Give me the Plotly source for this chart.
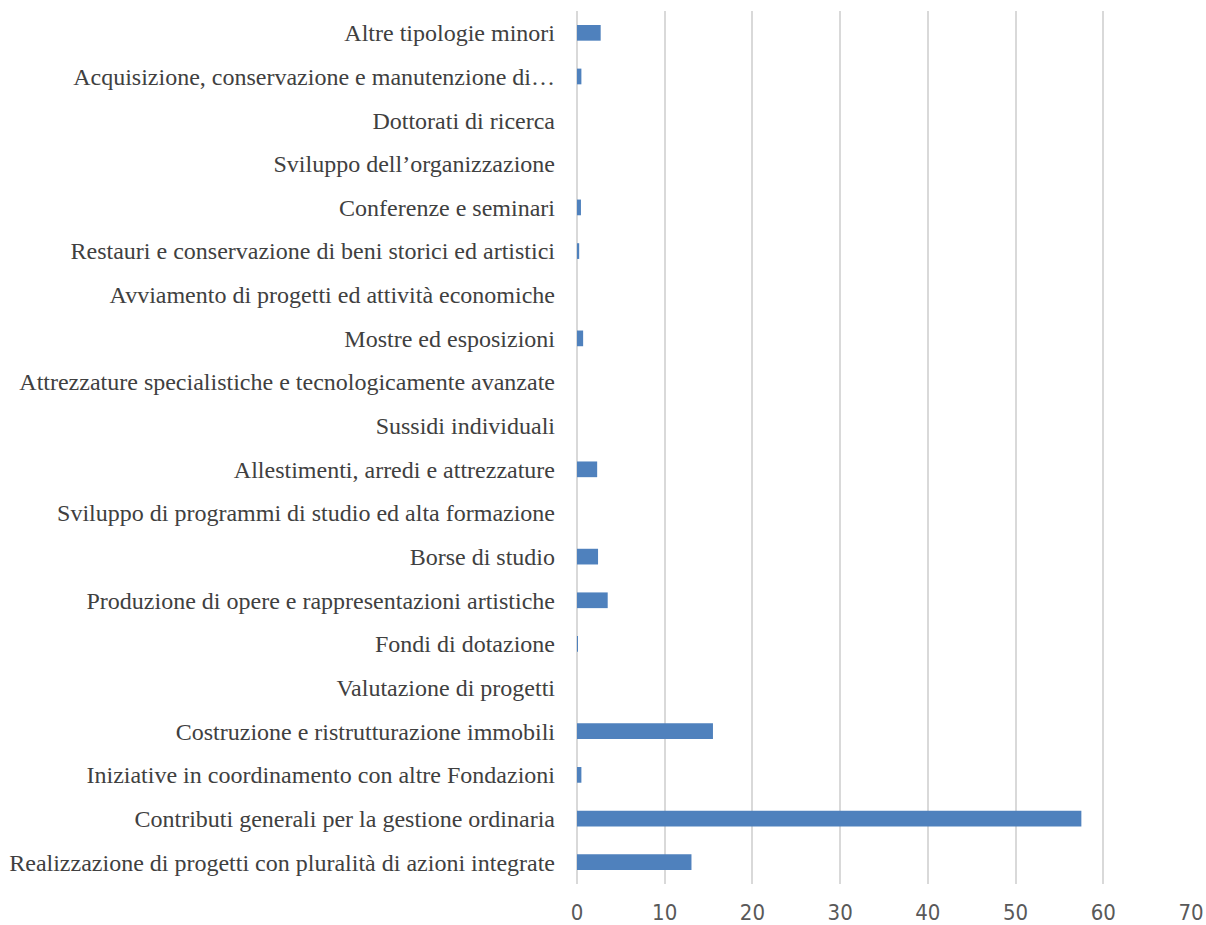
import plotly.graph_objects as go

categories = [
    "Realizzazione di progetti con pluralità di azioni integrate",
    "Contributi generali per la gestione ordinaria",
    "Iniziative in coordinamento con altre Fondazioni",
    "Costruzione e ristrutturazione immobili",
    "Valutazione di progetti",
    "Fondi di dotazione",
    "Produzione di opere e rappresentazioni artistiche",
    "Borse di studio",
    "Sviluppo di programmi di studio ed alta formazione",
    "Allestimenti, arredi e attrezzature",
    "Sussidi individuali",
    "Attrezzature specialistiche e tecnologicamente avanzate",
    "Mostre ed esposizioni",
    "Avviamento di progetti ed attività economiche",
    "Restauri e conservazione di beni storici ed artistici",
    "Conferenze e seminari",
    "Sviluppo dell\u2019organizzazione",
    "Dottorati di ricerca",
    "Acquisizione, conservazione e manutenzione di\u2026",
    "Altre tipologie minori",
]
values = [13.05, 57.5, 0.5, 15.5, 0.0, 0.05, 3.5, 2.4, 0.0, 2.3,
          0.0, 0.0, 0.7, 0.0, 0.25, 0.45, 0.0, 0.0, 0.5, 2.7]
x_ticks = [0, 10, 20, 30, 40, 50, 60, 70]

fig = go.Figure(go.Bar(
    x=values, y=categories, orientation="h",
    marker=dict(color="#4f81bd", line=dict(width=0)),
))

fig.update_layout(
    width=1206, height=925,
    margin=dict(l=577, r=15, t=11, b=41),
    paper_bgcolor="white", plot_bgcolor="white",
    bargap=0.64,
    showlegend=False,
)
fig.update_xaxes(
    range=[0, 70], tickvals=x_ticks, showgrid=True, gridcolor="#d9d9d9", gridwidth=2,
    zeroline=True, zerolinecolor="#d9d9d9", zerolinewidth=2,
    tickfont=dict(family="Liberation Sans Narrow, DejaVu Sans Condensed, sans-serif", size=22, color="#595959"),
    ticklabelstandoff=13, showline=False, automargin=False,
)
fig.update_yaxes(
    categoryorder="array", categoryarray=categories,
    tickfont=dict(family="Liberation Serif, Times New Roman, serif", size=24, color="#404040"),
    ticklabelstandoff=21, showgrid=False, automargin=False, ticks="",
)

fig.write_html(
    "out.html",
    config={"displayModeBar": False},
    post_script="document.body.style.margin='0';document.body.style.overflow='hidden';",
)
